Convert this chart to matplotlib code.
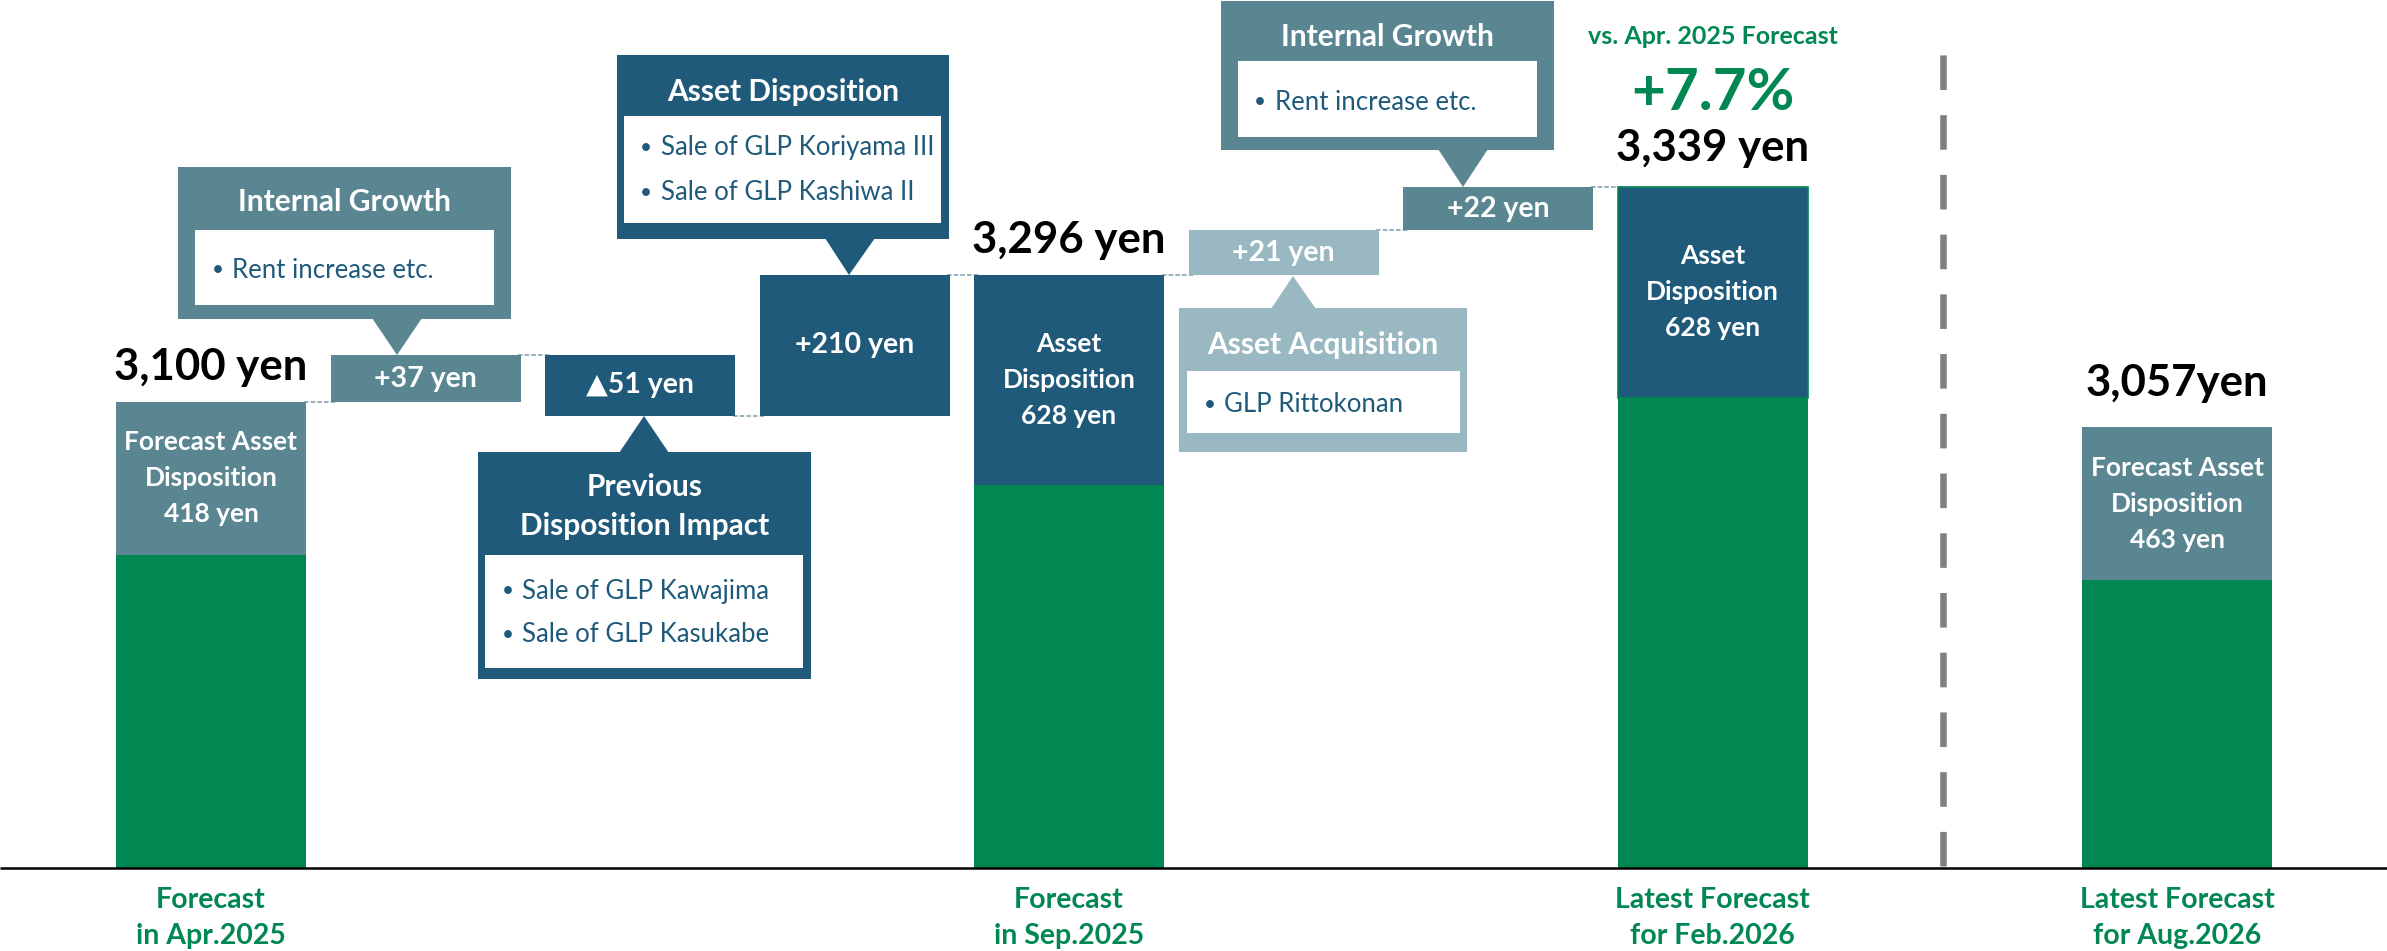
import matplotlib
matplotlib.use("Agg")
import matplotlib.pyplot as plt
from matplotlib.patches import Rectangle, Polygon

plt.rcParams['font.family'] = ['Lato', 'DejaVu Sans']

# ---------------- data ----------------
categories = ["Forecast\nin Apr.2025", "Forecast\nin Sep.2025",
              "Latest Forecast\nfor Feb.2026", "Latest Forecast\nfor Aug.2026"]
total_yen = [3100, 3296, 3339, 3057]
total_labels = ["3,100 yen", "3,296 yen", "3,339 yen", "3,057yen"]
disposition_yen = [418, 628, 628, 463]
disposition_names = ["Forecast Asset\nDisposition", "Asset\nDisposition",
                     "Asset\nDisposition", "Forecast Asset\nDisposition"]
step_yen = [37, -51, 210, 21, 22]
step_labels = ["+37 yen", "\u25b251 yen", "+210 yen", "+21 yen", "+22 yen"]
# heights as drawn on the (non-proportional) slide, in chart units
total_height = [466, 593, 681, 441]
disposition_height = [153, 210, 211, 153]
step_height = [47, -61, 141, 45, 43]
growth_label = "+7.7%"
growth_caption = "vs. Apr. 2025 Forecast"
callout_titles = ["Internal Growth", "Previous\nDisposition Impact",
                  "Asset Disposition", "Asset Acquisition", "Internal Growth"]
callout_bullets = [["Rent increase etc."],
                   ["Sale of GLP Kawajima", "Sale of GLP Kasukabe"],
                   ["Sale of GLP Koriyama III", "Sale of GLP Kashiwa II"],
                   ["GLP Rittokonan"],
                   ["Rent increase etc."]]

# ---------------- style ----------------
GREEN = "#008752"
NAVY = "#1F5A7B"
STEEL = "#5A8692"
LIGHT = "#99B8C2"
TXT = "#1F5A7B"
disp_colors = [STEEL, NAVY, NAVY, STEEL]
step_colors = [STEEL, NAVY, NAVY, LIGHT, STEEL]

W_PX, H_PX = 2387, 951
X0, DX, BASE = 211.0, 214.5, 868.0

fig = plt.figure(figsize=(W_PX / 100, H_PX / 100), dpi=100)
ax = fig.add_axes([0, 0, 1, 1])
ax.set_xlim(-X0 / DX, (W_PX - X0) / DX)
ax.set_ylim(-(H_PX - BASE), BASE)
ax.axis("off")


def xd(px):
    return (px - X0) / DX


def yd(py):
    return BASE - py


bar_x = [0, 4, 7, 9.166]
step_x = [1, 2, 3, 5, 6]
BW = 190 / DX

# totals (green base + disposition segment)
base_h = [t - d for t, d in zip(total_height, disposition_height)]
ax.bar(bar_x, base_h, width=BW, color=GREEN, zorder=2)
tops = ax.bar(bar_x, disposition_height, bottom=base_h, width=BW,
              color=disp_colors, zorder=2)
tops[2].set_edgecolor(GREEN)
tops[2].set_linewidth(1.2)

# waterfall steps
step_bottom = []
level = total_height[0]
for i, h in enumerate(step_height):
    if i == 3:
        level = total_height[1]
    step_bottom.append(level if h > 0 else level + h)
    level += h
ax.bar(step_x, [abs(h) for h in step_height], bottom=step_bottom, width=BW,
       color=step_colors, zorder=2)

# dotted connectors between consecutive waterfall items
seq_x = [0, 1, 2, 3, 4, 5, 6, 7]
conn = [total_height[0]]
lv = total_height[0]
for h in step_height[:3]:
    lv += h
    conn.append(lv)
conn.append(total_height[1])
lv = total_height[1]
for h in step_height[3:]:
    lv += h
    conn.append(lv)
for i, lvl in enumerate(conn):
    xa = seq_x[i] + BW / 2 - 0.01
    xb = seq_x[i + 1] - BW / 2 + 0.03
    ax.plot([xa, xb], [lvl, lvl], color="#8FAAB6", lw=1.3,
            linestyle=(0, (2.5, 1.2)), zorder=1)

# step value labels
for x, b, h, lab in zip(step_x, step_bottom, step_height, step_labels):
    ax.text(x, b + abs(h) / 2, lab, ha="center", va="center", color="white",
            fontsize=20.5, fontweight="bold", zorder=5)

# total labels above bars
total_off = [35, 35, 39, 44]
for x, t, lab, off in zip(bar_x, total_height, total_labels, total_off):
    ax.text(x, t + off, lab, ha="center", va="center", color="black",
            fontsize=31.5, fontweight="bold", zorder=5)

# disposition labels within top segments
for x, b, d, name, v in zip(bar_x, base_h, disposition_height,
                            disposition_names, disposition_yen):
    lines = name.split("\n") + [f"{v} yen"]
    mid = b + d / 2
    for k, line in enumerate(lines):
        ax.text(x, mid + (1 - k) * 36, line, ha="center", va="center",
                color="white", fontsize=19, fontweight="bold", zorder=5)

# category labels
for x, cat in zip(bar_x, categories):
    l1, l2 = cat.split("\n")
    ax.text(x, yd(900), l1, ha="center", va="center", color=GREEN,
            fontsize=20.5, fontweight="bold")
    ax.text(x, yd(936), l2, ha="center", va="center", color=GREEN,
            fontsize=20.5, fontweight="bold")

# growth annotation
ax.text(bar_x[2], yd(37), growth_caption, ha="center", va="center",
        color=GREEN, fontsize=18, fontweight="bold")
ax.text(bar_x[2], yd(93), growth_label, ha="center", va="center",
        color=GREEN, fontsize=42, fontweight="bold")

# baseline
ax.plot([xd(0), xd(W_PX)], [0, 0], color="black", lw=1.8, zorder=6,
        solid_capstyle="butt")

# dashed separator
ax.plot([xd(1942.5), xd(1942.5)], [yd(866), yd(43)], color="#808080",
        lw=4.7, linestyle=(0, (5.3, 3.85)), solid_capstyle="butt",
        dash_capstyle="butt", zorder=1)


# callouts (pixel layout)
def rect(l, t, r, b, color, z=3):
    ax.add_patch(Rectangle((xd(l), yd(b)), xd(r) - xd(l), yd(t) - yd(b),
                           facecolor=color, edgecolor="none", zorder=z))


def callout(outer, inner, color, title, title_y, bullets, bullet_y,
            dot_x, text_x, tri):
    rect(*outer, color)
    rect(*inner, "white", z=4)
    ax.add_patch(Polygon([(xd(px), yd(py)) for px, py in tri], closed=True,
                         facecolor=color, edgecolor="none", zorder=3))
    cx = (outer[0] + outer[2]) / 2
    for line, ty in zip(title.split("\n"), title_y):
        ax.text(xd(cx), yd(ty), line, ha="center", va="center",
                color="white", fontsize=21.5, fontweight="bold", zorder=5)
    for b, by in zip(bullets, bullet_y):
        ax.text(xd(dot_x), yd(by), "\u2022", ha="center", va="center",
                color=TXT, fontsize=15, zorder=5)
        ax.text(xd(text_x), yd(by), b, ha="left", va="center",
                color=TXT, fontsize=18.5, zorder=5)


callout((178, 167, 511, 319), (195, 230, 494, 305), STEEL,
        callout_titles[0], [202], callout_bullets[0], [270], 218, 232,
        [(372, 318), (422, 318), (397, 355)])
callout((478, 452, 811, 679), (485, 555, 803, 668), NAVY,
        callout_titles[1], [487, 526], callout_bullets[1], [591, 635], 508, 522,
        [(619, 453), (669, 453), (644, 416)])
callout((617, 55, 949, 239), (624, 116, 941, 223), NAVY,
        callout_titles[2], [92], callout_bullets[2], [148, 193], 646, 661,
        [(825, 238), (875, 238), (849, 275)])
callout((1179, 308, 1467, 452), (1187, 371, 1460, 433), LIGHT,
        callout_titles[3], [345], callout_bullets[3], [405], 1210, 1224,
        [(1271, 309), (1316, 309), (1293, 276)])
callout((1221, 1, 1554, 150), (1238, 61, 1537, 137), STEEL,
        callout_titles[4], [37], callout_bullets[4], [102], 1260, 1275,
        [(1438, 149), (1488, 149), (1463, 187)])

fig.savefig("out.png", dpi=100, facecolor="white")
